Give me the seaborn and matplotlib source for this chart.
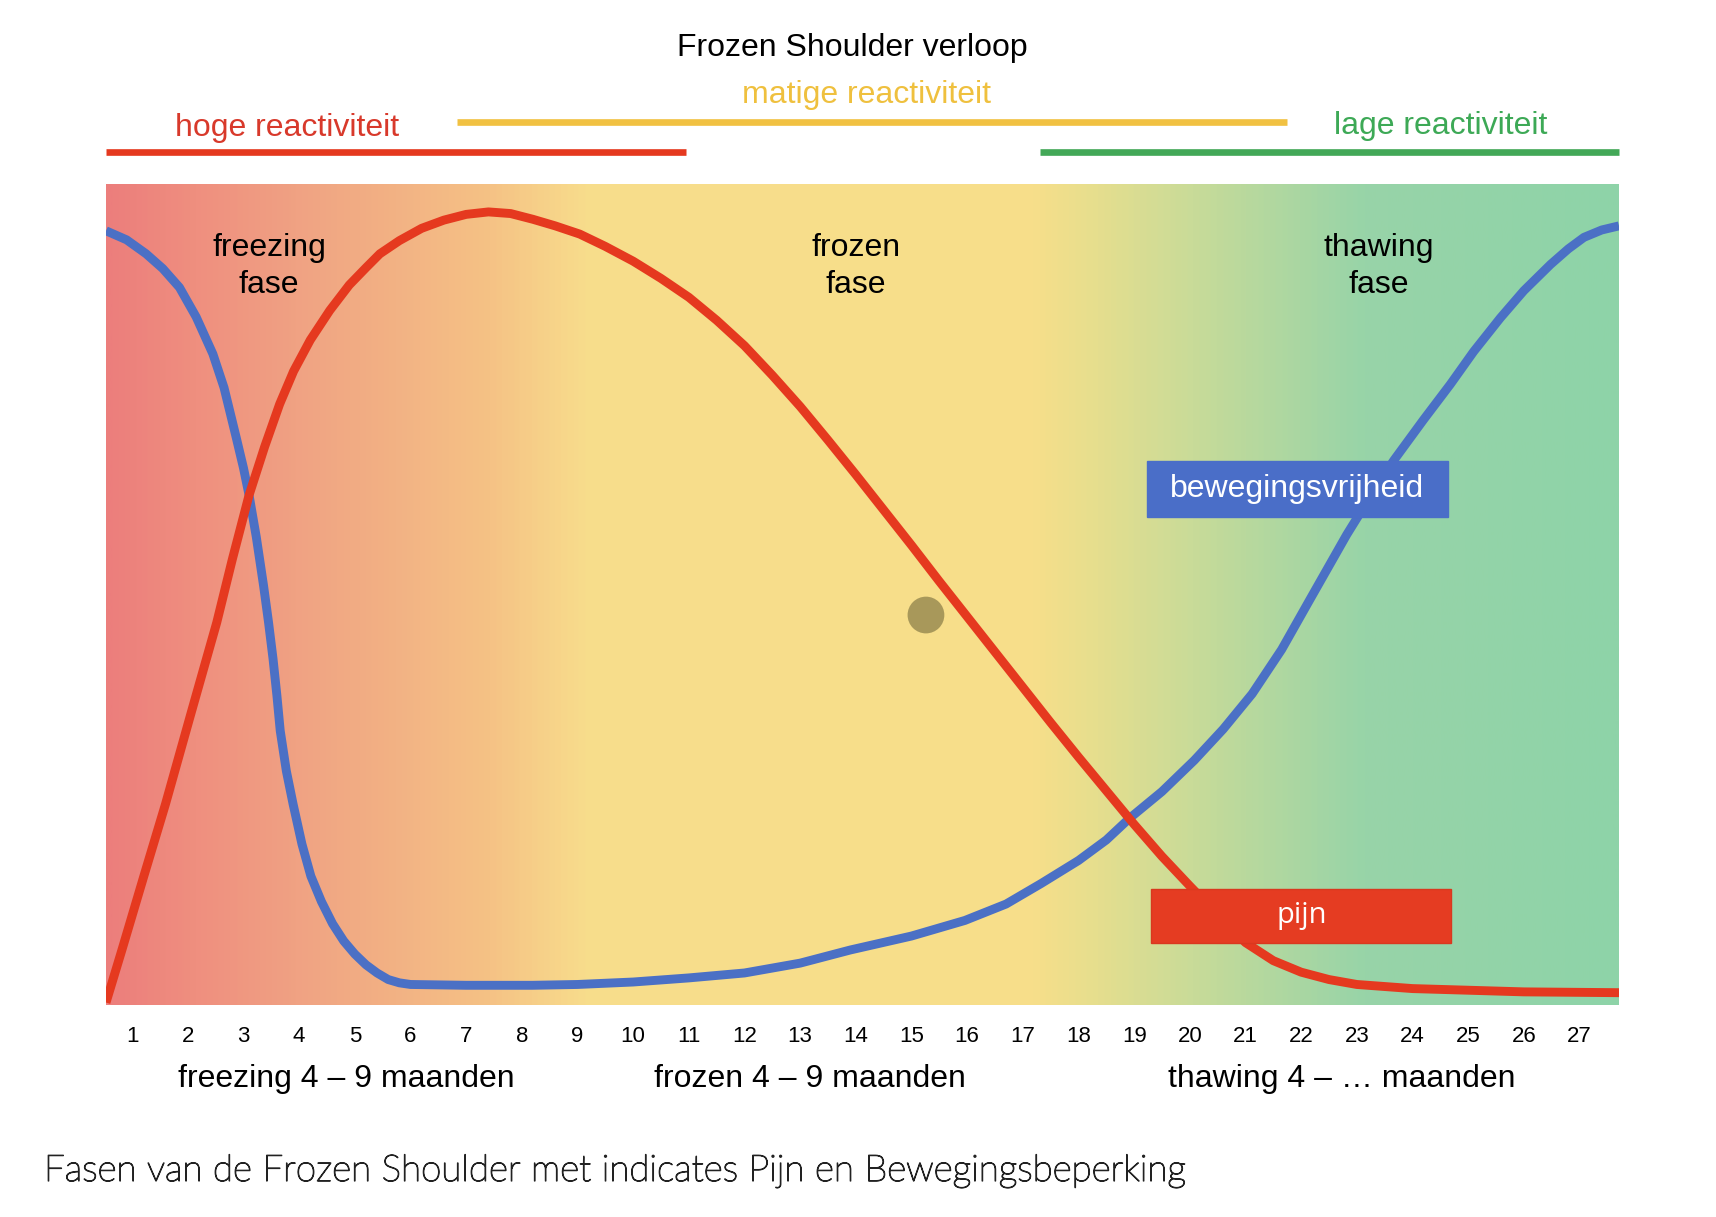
import numpy as np
import matplotlib
matplotlib.use("Agg")
import matplotlib.pyplot as plt
from matplotlib import font_manager
from matplotlib import patheffects
from matplotlib.colors import LinearSegmentedColormap
from matplotlib.patches import Rectangle
import seaborn as sns

# ---- data -------------------------------------------------------------
months = list(range(1, 28))

# pain (pijn) course, month vs. relative level
pain_month = [0.53, 0.82, 1.21, 1.60, 2.06, 2.52, 2.80, 3.10, 3.38, 3.65, 3.90, 4.20,
              4.55, 4.90, 5.20, 5.45, 5.80, 6.20, 6.60, 7.00, 7.40, 7.80, 8.20,
              8.60, 9.04, 9.50, 10.0, 10.5, 11.0, 11.5, 12.0, 12.5, 13.0, 13.5,
              14.0, 14.5, 15.0, 15.5, 16.0, 16.5, 17.0, 17.5, 18.0, 18.5, 19.0,
              19.5, 20.0, 20.5, 21.0, 21.5, 22.0, 22.5, 23.0, 24.0, 25.0, 26.0, 27.71]
pain_level = [0.3, 6.8, 15.7, 24.5, 35.6, 46.6, 54.3, 62.1, 68.0, 73.2, 77.2, 81.0,
              84.6, 87.7, 89.8, 91.5, 93.1, 94.6, 95.6, 96.3, 96.6, 96.4, 95.7,
              94.9, 93.9, 92.4, 90.6, 88.5, 86.2, 83.4, 80.3, 76.7, 72.9, 68.8,
              64.6, 60.3, 56.0, 51.6, 47.3, 43.0, 38.7, 34.4, 30.2, 26.1, 22.0,
              18.1, 14.5, 11.0, 7.6, 5.4, 4.0, 3.1, 2.5, 2.0, 1.8, 1.6, 1.5]

# range of motion (bewegingsvrijheid) course
mobility_month = [0.53, 0.90, 1.25, 1.55, 1.85, 2.15, 2.45, 2.65, 2.87, 3.00, 3.10,
                  3.23, 3.36, 3.45, 3.53, 3.60, 3.66, 3.77, 3.89, 4.05, 4.21, 4.40,
                  4.60, 4.80, 5.00, 5.20, 5.40, 5.60, 5.80, 6.00, 7.00, 8.19, 9.00,
                  10.0, 11.0, 12.0, 13.0, 13.9, 15.0, 15.96, 16.7, 17.33, 18.0, 18.5,
                  18.91, 19.5, 20.08, 20.6, 21.12, 21.65, 22.15, 22.82, 23.25, 23.66,
                  24.2, 24.68, 25.1, 25.58, 26.0, 26.48, 26.8, 27.08, 27.4, 27.71]
mobility_level = [94.3, 93.2, 91.5, 89.7, 87.4, 83.8, 79.3, 75.2, 69.1, 65.4, 62.1,
                  57.0, 51.1, 46.6, 42.2, 37.7, 33.4, 28.5, 24.5, 19.6, 15.7, 12.6,
                  9.9, 7.8, 6.2, 4.9, 3.9, 3.1, 2.7, 2.5, 2.4, 2.4, 2.5,
                  2.8, 3.3, 3.9, 5.1, 6.7, 8.4, 10.3, 12.3, 14.8, 17.6, 20.1,
                  22.7, 26.0, 29.8, 33.6, 37.9, 43.3, 49.3, 57.3, 62.0, 66.3,
                  71.3, 75.6, 79.6, 83.7, 87.0, 90.2, 92.1, 93.5, 94.4, 94.9]

marker_month = [15.26]
marker_level = [47.5]

reactivity_labels = ["hoge reactiviteit", "matige reactiviteit", "lage reactiviteit"]
reactivity_start = [0.53, 6.84, 17.3]
reactivity_end = [10.95, 21.75, 27.71]
reactivity_label_month = [3.79, 14.2, 24.5]

phase_labels = ["freezing\nfase", "frozen\nfase", "thawing\nfase"]
phase_center = [3.46, 14.0, 23.4]

duration_labels = ["freezing 4 – 9 maanden", "frozen 4 – 9 maanden",
                   "thawing 4 – … maanden"]
duration_center = [4.85, 13.17, 22.73]

bg_month = [0.53, 2.1, 3.92, 7.4, 9.15, 17.2, 18.4, 19.64, 21.4, 23.15, 27.71]
bg_colors = ["#EC7E7C", "#EF8F7F", "#F0A283", "#F5C285", "#F8DD8C", "#F7DF8A",
             "#E5DE8E", "#D0DC96", "#B3D89F", "#98D4A8", "#8ED3A8"]

# ---- styling ----------------------------------------------------------
RED = "#E5391F"
BLUE = "#4B70C5"
RED_TXT = "#D8392B"
YEL = "#F1C142"
GRN = "#43A857"
GRN_TXT = "#3DA956"


def have(name):
    try:
        font_manager.findfont(font_manager.FontProperties(family=name),
                              fallback_to_default=False)
        return True
    except Exception:
        return False


NARROW = "Liberation Sans Narrow" if have("Liberation Sans Narrow") else "Liberation Sans"
REG = "Liberation Sans"
SCALE = 1.0 if NARROW.endswith("Narrow") else 0.855

sns.set_theme(style="white")
plt.rcParams["font.family"] = [REG, "DejaVu Sans"]

fig = plt.figure(figsize=(17.16, 12.17), dpi=100)
fig.patch.set_facecolor("white")
ax = fig.add_axes([106 / 1716, 1 - 1005 / 1217, (1619 - 106) / 1716, (1005 - 184) / 1217])

xlo, xhi = bg_month[0], bg_month[-1]

# background colour band running through the three phases
stops = [(m - xlo) / (xhi - xlo) for m in bg_month]
cmap = LinearSegmentedColormap.from_list("phases", list(zip(stops, bg_colors)))
grad = np.linspace(xlo, xhi, 1200)[None, :]
ax.imshow(grad, extent=(xlo, xhi, 0, 100), aspect="auto", cmap=cmap,
          vmin=xlo, vmax=xhi, zorder=0, interpolation="bilinear")

# curves
sns.lineplot(x=mobility_month, y=mobility_level, color=BLUE, linewidth=6.4,
             ax=ax, zorder=3, estimator=None, sort=False)
sns.lineplot(x=pain_month, y=pain_level, color=RED, linewidth=6.4,
             ax=ax, zorder=4, estimator=None, sort=False)
for ln in ax.lines:
    ln.set_solid_joinstyle("round")
    ln.set_solid_capstyle("butt")

sns.scatterplot(x=marker_month, y=marker_level, s=700, color="#A8985A",
                edgecolor="none", ax=ax, zorder=5)

# label boxes
ax.add_patch(Rectangle((19.23, 59.5), 5.41, 6.8, facecolor="#4A6EC8",
                       edgecolor="#4A6EC8", zorder=6))
ax.text(19.23 + 5.41 / 2, 59.5 + 3.4, "bewegingsvrijheid", color="white",
        fontsize=23, ha="center", va="center", zorder=7, family=REG)
ax.add_patch(Rectangle((19.31, 7.5), 5.39, 6.6, facecolor="#E53C22",
                       edgecolor="#D9381F", zorder=6))
ax.text(19.31 + 5.39 / 2, 7.5 + 3.4, "pijn", color="white",
        fontsize=21, ha="center", va="center", zorder=7, family="Open Sans")

# phase names inside the plot
for lab, m in zip(phase_labels, phase_center):
    ax.text(m, 89.9, lab, ha="center", va="center", fontsize=23,
            color="black", linespacing=1.3, zorder=7, family=REG)

ax.set_xlim(xlo, xhi)
ax.set_ylim(0, 100)
ax.set_xticks(months)
ax.set_xticklabels([str(m) for m in months], fontsize=16.5 * (1 if SCALE == 1 else 0.97),
                   family=NARROW, color="black")
ax.set_yticks([])
ax.tick_params(axis="x", length=0, pad=15)
ax.set_xlabel("")
ax.set_ylabel("")
for sp in ax.spines.values():
    sp.set_visible(False)

# reactivity bars above the plot
bar_level = [103.9, 107.5, 103.9]
bar_colors = [RED, YEL, GRN]
txt_colors = [RED_TXT, "#EFC03E", GRN_TXT]
txt_level = [106.8, 110.8, 107.1]
for lab, s, e, lm, bl, bc, tc, tl in zip(reactivity_labels, reactivity_start,
                                          reactivity_end, reactivity_label_month,
                                          bar_level, bar_colors, txt_colors, txt_level):
    ax.plot([s, e], [bl, bl], color=bc, linewidth=4.8, clip_on=False,
            solid_capstyle="butt", zorder=2)
    ax.text(lm, tl, lab, ha="center", va="center", color=tc, fontsize=27 * SCALE,
            family=NARROW, clip_on=False)

ax.text(13.94, 116.6, "Frozen Shoulder verloop", ha="center", va="center",
        fontsize=27 * SCALE, family=NARROW, color="black", clip_on=False)

# durations under the month axis
for lab, m in zip(duration_labels, duration_center):
    ax.text(m, -9.0, lab, ha="center", va="center", fontsize=27 * SCALE,
            family=NARROW, color="black", clip_on=False)

fig.text(44 / 1716, 1 - 1171 / 1217,
         "Fasen van de Frozen Shoulder met indicates Pijn en Bewegingsbeperking",
         ha="left", va="center", fontsize=26.5, color="#222222",
         family=["Lato", "DejaVu Sans"], fontweight="light",
         path_effects=[patheffects.withStroke(linewidth=0.9, foreground="#222222")])

fig.savefig("out.png", dpi=100, facecolor="white")
